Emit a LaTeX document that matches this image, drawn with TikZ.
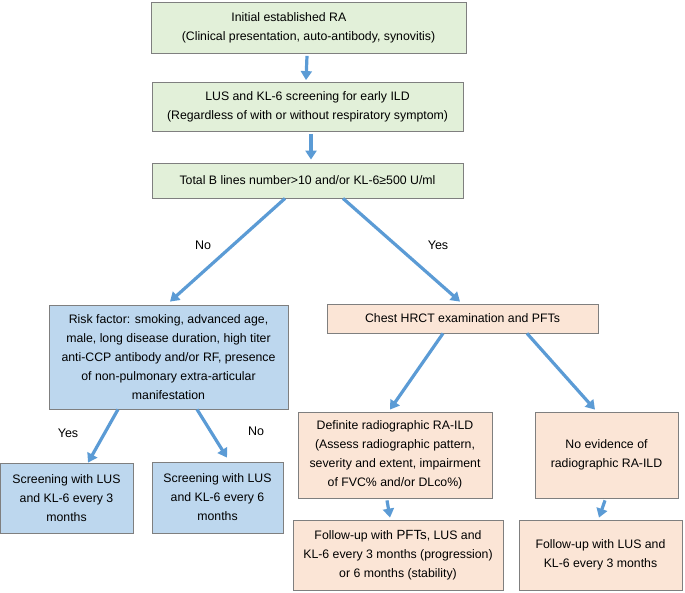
\documentclass[tikz,border=0pt]{standalone}
\usepackage{fontspec}
\setmainfont{Liberation Sans}
\usetikzlibrary{arrows.meta}

\definecolor{boxgreen}{HTML}{E2F0D9}
\definecolor{boxblue}{HTML}{BDD7EE}
\definecolor{boxpeach}{HTML}{FBE5D6}
\definecolor{arrowblue}{HTML}{5B9BD5}
\definecolor{boxline}{HTML}{7F7F7F}

\begin{document}
\begin{tikzpicture}[x = 1pt, y = -1pt,
  box/.style = {draw = boxline, line width = 0.8pt, align = center, inner sep = 0pt,
    font = \fontsize{12.3}{19}\selectfont},
  greenbox/.style = {box, fill = boxgreen},
  bluebox/.style = {box, fill = boxblue},
  peachbox/.style = {box, fill = boxpeach},
  flow/.style = {arrowblue, line width = 3.2pt, -{Triangle[length = 9pt, width = 11pt]}},
  lbl/.style = {font = \fontsize{12.5}{14}\selectfont}]

\useasboundingbox (0, 0) rectangle (685, 592);

\node[greenbox, minimum width = 315pt, minimum height = 51pt] (init) at (308.5, 28)
  {\hspace*{-3.2em}Initial established RA\\(Clinical presentation, auto-antibody, synovitis)};
\node[greenbox, minimum width = 311pt, minimum height = 49pt] (lus) at (307.5, 107)
  {LUS and KL-6 screening for early ILD\\(Regardless of with or without respiratory symptom)};
\node[greenbox, minimum width = 311pt, minimum height = 35pt] (total) at (307.5, 180.5)
  {Total B lines number>10 and/or KL-6≥500 U/ml};

\node[bluebox, minimum width = 239pt, minimum height = 104pt] (risk) at (168.5, 357)
  {Risk factor: smoking, advanced age,\\male, long disease duration, high titer\\anti-CCP antibody and/or RF, presence\\of non-pulmonary extra-articular\\manifestation};
\node[bluebox, minimum width = 133pt, minimum height = 70pt] (every3) at (66.5, 498)
  {Screening with LUS\\and KL-6 every 3\\months};
\node[bluebox, minimum width = 131pt, minimum height = 71pt] (every6) at (217.5, 497.5)
  {Screening with LUS\\and KL-6 every 6\\months};

\node[peachbox, minimum width = 271pt, minimum height = 29pt] (hrct) at (462.5, 318.5)
  {Chest HRCT examination and PFTs};
\node[peachbox, minimum width = 194pt, minimum height = 86pt] (ild) at (395, 455)
  {Definite radiographic RA-ILD\\(Assess radiographic pattern,\\severity and extent, impairment\\of FVC\% and/or DLco\%)};
\node[peachbox, minimum width = 143pt, minimum height = 86pt] (noild) at (606.5, 455)
  {No evidence of\\radiographic RA-ILD};
\node[peachbox, minimum width = 210pt, minimum height = 70pt] (followild) at (398, 555)
  {Follow-up with {\fontsize{13.3}{19}\selectfont PFTs}, LUS and\\KL-6 every 3 months (progression)\\or 6 months (stability)};
\node[peachbox, minimum width = 163pt, minimum height = 70pt] (follownoild) at (600.5, 555)
  {Follow-up with LUS and\\KL-6 every 3 months};

\draw[flow] ([xshift = -1.5pt, yshift = -2pt]init.south) -- ([xshift = -1.5pt, yshift = 2pt]lus.north);
\draw[flow] ([xshift = 3.5pt, yshift = -2pt]lus.south) -- ([xshift = 3.5pt, yshift = 3pt]total.north);

\draw[flow] ([xshift = -22.5pt]total.south) -- ([xshift = 1.5pt, yshift = 3pt]risk.north);
\draw[flow] ([xshift = 35.5pt]total.south) -- ([xshift = -2.5pt, yshift = 2pt]hrct.north);

\draw[flow] ([xshift = -50.5pt]risk.south) -- ([xshift = 21.5pt]every3.north);
\draw[flow] ([xshift = 28.5pt]risk.south) -- ([xshift = 9.5pt, yshift = 4pt]every6.north);

\draw[flow] ([xshift = -19.5pt]hrct.south) -- ([xshift = -5pt, yshift = 2pt]ild.north);
\draw[flow] ([xshift = 64.5pt]hrct.south) -- ([xshift = -11.5pt, yshift = 2pt]noild.north);

\draw[flow] ([xshift = -8pt, yshift = -2pt]ild.south) -- ([xshift = -8pt, yshift = 2pt]followild.north);
\draw[flow] ([xshift = -1.5pt, yshift = -2pt]noild.south) -- ([xshift = -1.5pt, yshift = 2pt]follownoild.north);

\node[lbl] (no1) at (203, 245) {No};
\node[lbl] (yes1) at (438, 245) {Yes};
\node[lbl] (yes2) at (68, 433) {Yes};
\node[lbl] (no2) at (256, 431) {No};
\end{tikzpicture}
\end{document}
